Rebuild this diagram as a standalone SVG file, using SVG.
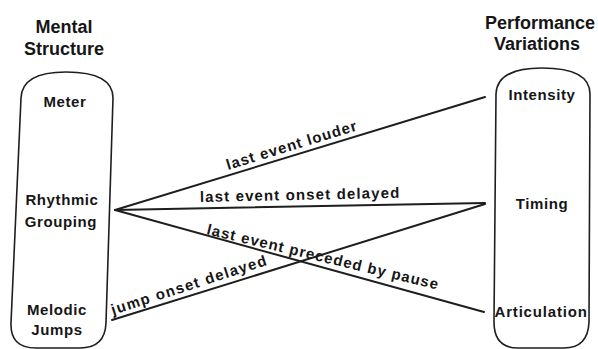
<svg xmlns="http://www.w3.org/2000/svg" width="598" height="349" viewBox="0 0 598 349">
<style>
text{font-family:"Liberation Sans",Arial,Helvetica,sans-serif;font-weight:bold;fill:#161616}
.h{font-size:18px;text-anchor:middle}
.n{font-size:15px;text-anchor:middle;letter-spacing:0.6px}
.l{font-size:15px;letter-spacing:0.6px}
.box{fill:none;stroke:#1e1e1e;stroke-width:1.6}
.c{fill:none;stroke:#1e1e1e;stroke-width:2;stroke-linecap:round}
</style>
<rect width="598" height="349" fill="#fff"/>
<g id="title-left">
<text class="h" x="64" y="33">Mental</text>
<text class="h" x="64" y="55">Structure</text>
</g>
<g id="title-right">
<text class="h" x="540" y="29">Performance</text>
<text class="h" x="537" y="50">Variations</text>
</g>
<g id="mental-structure">
<path class="box" d="M21,98 Q22,72 66,72 Q113,72 113,98 L106,323 Q105,348 80,348 L36,348 Q10,348 11,323 Z"/>
<text class="n" x="65" y="107">Meter</text>
<text class="n" x="62" y="205">Rhythmic</text>
<text class="n" x="61" y="227">Grouping</text>
<text class="n" x="57" y="315">Melodic</text>
<text class="n" x="57" y="335">Jumps</text>
</g>
<g id="performance-variations">
<path class="box" d="M496,94 Q497,68 542,68 Q590,68 590,94 L589,322 Q588,348 564,348 L518,348 Q494,348 494,322 Z"/>
<text class="n" x="542" y="100">Intensity</text>
<text class="n" x="542" y="209">Timing</text>
<text class="n" x="541" y="317" textLength="93" lengthAdjust="spacing">Articulation</text>
</g>
<g id="connectors">
<path class="c" d="M115,210 L485,97"/>
<path class="c" d="M115,210 L485,203"/>
<path class="c" d="M115,210 L484,312"/>
<path class="c" d="M112,320 L485,204"/>
<text class="l" x="228" y="170" transform="rotate(-17 228 170)" textLength="136" lengthAdjust="spacing">last event louder</text>
<text class="l" x="200" y="202" transform="rotate(-1.2 200 202)" textLength="200" lengthAdjust="spacing">last event onset delayed</text>
<text class="l" x="206" y="234" transform="rotate(13.5 206 234)" textLength="238" lengthAdjust="spacing">last event preceded by pause</text>
<text class="l" x="113" y="315" transform="rotate(-18 113 315)" textLength="163" lengthAdjust="spacing">jump onset delayed</text>
</g>
</svg>
